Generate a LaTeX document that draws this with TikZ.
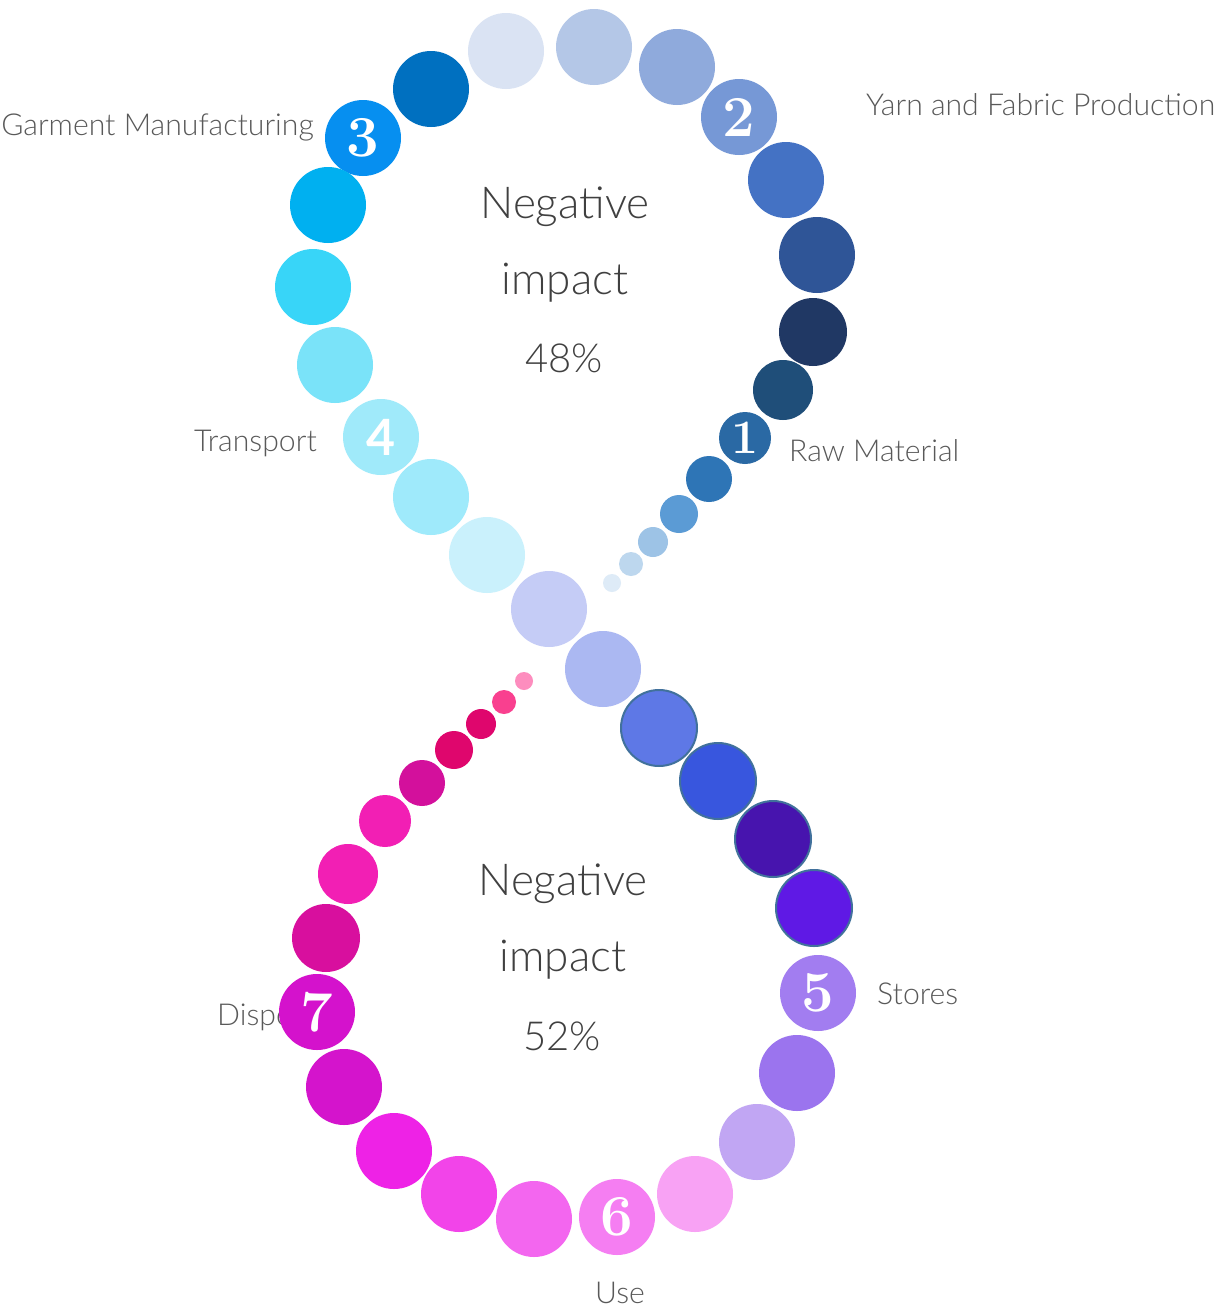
\documentclass[tikz,border=0pt]{standalone}
\usepackage{fontspec}
\newfontfamily\lab{Lato Light}
\newfontfamily\labbold{Lato Bold}
\definecolor{labgray}{HTML}{595959}
\definecolor{ctrgray}{HTML}{404040}
\definecolor{edgeblue}{HTML}{41719C}
\newcommand\bead[5]{\definecolor{col#1}{HTML}{#5}\node[bead,minimum size=2*#4,fill=col#1] (#1) at (#2,#3) {};}
\newcommand\rbead[5]{\definecolor{col#1}{HTML}{#5}\node[bead,rim,minimum size=2*#4,fill=col#1] (#1) at (#2,#3) {};}
\newcommand\nbead[7]{\definecolor{col#1}{HTML}{#5}\node[bead,minimum size=2*#4,fill=col#1,font=#7] (#1) at (#2,#3) {#6};}
\begin{document}
\begin{tikzpicture}[x=1pt,y=-1pt,
  bead/.style={circle,inner sep=0pt,draw=none,text=white},
  rim/.style={draw=edgeblue,line width=2pt},
  lbl/.style={inner sep=0pt,text=labgray,font=\lab\fontsize{30.2}{35}\selectfont},
  ctr/.style={inner sep=0pt,text=ctrgray,anchor=base,font=\lab\fontsize{44}{50}\selectfont}]
\useasboundingbox[fill=white] (0,0) rectangle (1221,1309);
% labels
\node[lbl,anchor=base east] (lgm) at (314,135) {Garment Manufacturing};
\node[lbl,anchor=base west] (lyf) at (866,115) {Yarn and Fabric Production};
\node[lbl,anchor=base east] (ltr) at (317,451) {Transport};
\node[lbl,anchor=base west] (lrm) at (789,461) {Raw Material};
\node[lbl,anchor=base west] (lst) at (877,1004) {Stores};
\node[lbl,anchor=base] (lus) at (620,1303) {Use};
\node[lbl,anchor=base west] (ldi) at (217,1025) {Disposal};
% central texts
\node[ctr] (n1) at (565,218) {Negative};
\node[ctr] (i1) at (565,294) {impact};
\node[ctr,font=\lab\fontsize{40}{46}\selectfont] (p1) at (564,372) {48\%};
\node[ctr] (n2) at (563,895) {Negative};
\node[ctr] (i2) at (563,971) {impact};
\node[ctr,font=\lab\fontsize{40}{46}\selectfont] (p2) at (562,1050) {52\%};
% upper tail and loop
\bead{b01}{612}{583}{9}{DEEBF7}
\bead{b02}{631}{564}{12}{BDD7EE}
\bead{b03}{653}{542}{15}{9DC3E6}
\bead{b04}{679}{514}{19}{5B9BD5}
\bead{b05}{709}{479}{23}{2E75B6}
\nbead{b06}{745}{438}{26}{2A69A4}{1}{\bfseries\fontsize{48}{48}\selectfont}
\bead{b07}{783}{390}{30}{1F4E79}
\bead{b08}{813}{332}{34}{203864}
\bead{b09}{817}{255}{38}{2F5597}
\bead{b10}{786}{180}{38}{4472C4}
\nbead{b11}{739}{117}{38}{7698D6}{2}{\bfseries\fontsize{58}{58}\selectfont}
\bead{b12}{677}{67}{38}{8FAADC}
\bead{b13}{594}{47}{38}{B4C7E7}
\bead{b14}{506}{51}{38}{DAE3F3}
\bead{b15}{431}{89}{38}{0070C0}
\nbead{b16}{363}{138}{38}{068FF0}{3}{\bfseries\fontsize{58}{58}\selectfont}
\bead{b17}{328}{205}{38}{00B0F0}
\bead{b18}{313}{287}{38}{38D5F8}
\bead{b19}{335}{365}{38}{7AE3F9}
\nbead{b20}{381}{437}{38}{A0EAFA}{4}{\labbold\fontsize{50}{50}\selectfont}
\bead{b21}{431}{497}{38}{9FEAFB}
\bead{b22}{487}{555}{38}{CAF1FC}
\bead{b23}{549}{609}{38}{C5CCF6}
\bead{b24}{603}{669}{38}{ABB8F2}
% lower loop
\rbead{b25}{659}{728}{38}{5E78E6}
\rbead{b26}{718}{781}{38}{3856DE}
\rbead{b27}{773}{839}{38}{4714AE}
\rbead{b28}{814}{908}{38}{5F19E5}
\nbead{b29}{818}{993}{38}{A27DF0}{5}{\bfseries\fontsize{58}{58}\selectfont}
\bead{b30}{797}{1073}{38}{9B74EE}
\bead{b31}{757}{1142}{38}{C1A6F3}
\bead{b32}{695}{1194}{38}{F8A2F4}
\nbead{b33}{617}{1217}{38}{F57EF2}{6}{\bfseries\fontsize{58}{58}\selectfont}
\bead{b34}{534}{1219}{38}{F366EF}
\bead{b35}{459}{1194}{38}{F244E9}
\bead{b36}{394}{1151}{38}{EE22E6}
\bead{b37}{344}{1087}{38}{D414CC}
\nbead{b38}{317}{1012}{38}{D412CC}{7}{\bfseries\fontsize{58}{58}\selectfont}
\bead{b39}{326}{938}{34}{D80F9E}
\bead{b40}{348}{874}{30}{F21FB4}
\bead{b41}{385}{821}{26}{F21FB4}
\bead{b42}{422}{783}{23}{D3109C}
\bead{b43}{454}{750}{19}{DF066D}
\bead{b44}{481}{724}{15}{DF066D}
\bead{b45}{504}{702}{12}{F9408F}
\bead{b46}{524}{681}{9}{FD8DBE}
\end{tikzpicture}
\end{document}
